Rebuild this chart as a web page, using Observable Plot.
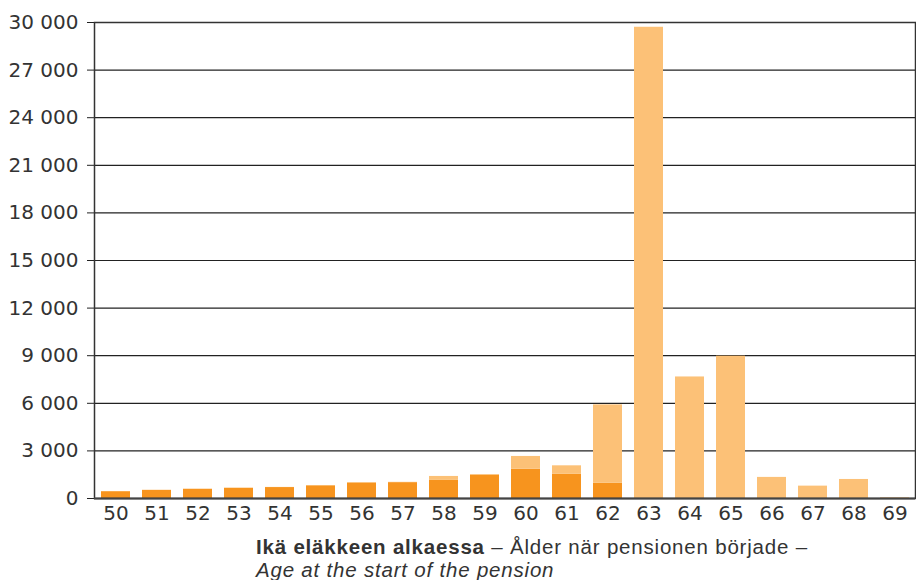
<!DOCTYPE html>
<html><head><meta charset="utf-8">
<script src="https://cdn.jsdelivr.net/npm/d3@7"></script>
<script src="https://cdn.jsdelivr.net/npm/@observablehq/plot@0.6"></script>
<style>
body{margin:0;background:#fff;font-family:"Liberation Sans",sans-serif;}
svg{display:block;}
#cap{margin-left:256px;margin-top:4px;font-size:20.5px;line-height:23px;color:#333;letter-spacing:0.8px;}
#cap div{white-space:nowrap;}
</style></head><body>
<div id="chart"></div>
<div id="cap"><div><b>Ikä eläkkeen alkaessa</b> – Ålder när pensionen började –</div><div><i>Age at the start of the pension</i></div></div>
<script>
const ages = ["50","51","52","53","54","55","56","57","58","59","60","61","62","63","64","65","66","67","68","69"];
const darkValues = [430,510,580,630,690,800,980,1000,1140,1480,1850,1540,970,0,0,0,0,0,0,0];
const lightValues = [10,10,10,30,10,20,10,20,250,20,800,520,4930,29700,7660,8970,1330,780,1200,40];
const yTicks = [0,3000,6000,9000,12000,15000,18000,21000,24000,27000,30000];
const seriesNames = ["dark","light"];
const colors = ["#F7941E","#FCC177"];

const data = [];
ages.forEach((a,i)=>{
  data.push({age:a, series:"dark", value:darkValues[i]});
  data.push({age:a, series:"light", value:lightValues[i]});
});
const fmt = d3.formatLocale({thousands:"\u00a0", grouping:[3]}).format(",");

const plot = Plot.plot({
  width:916, height:531,
  marginLeft:94, marginRight:1, marginTop:22, marginBottom:33,
  style:{fontFamily:"DejaVu Sans", fontSize:"20px", color:"#333", background:"white"},
  x:{domain:ages, range:[94,916], paddingInner:0.287, paddingOuter:0.1435, label:null},
  y:{domain:[0,30000], label:null},
  color:{domain:seriesNames, range:colors},
  marks:[
    Plot.ruleY(yTicks.slice(1,-1), {stroke:"#222", strokeWidth:1.2}),
    Plot.barY(data, {x:"age", y:"value", fill:"series", order:seriesNames}),
    Plot.axisY({ticks:yTicks, tickFormat:fmt, tickSize:7, tickPadding:9, fontSize:20, label:null, stroke:"#222"}),
    Plot.axisX({tickSize:0, tickPadding:7, fontSize:20, label:null}),
    Plot.frame({stroke:"#333", strokeWidth:1.5}),
    Plot.ruleY([0], {stroke:"#444", strokeWidth:2})
  ]
});
document.getElementById("chart").appendChild(plot);
</script>
</body></html>
